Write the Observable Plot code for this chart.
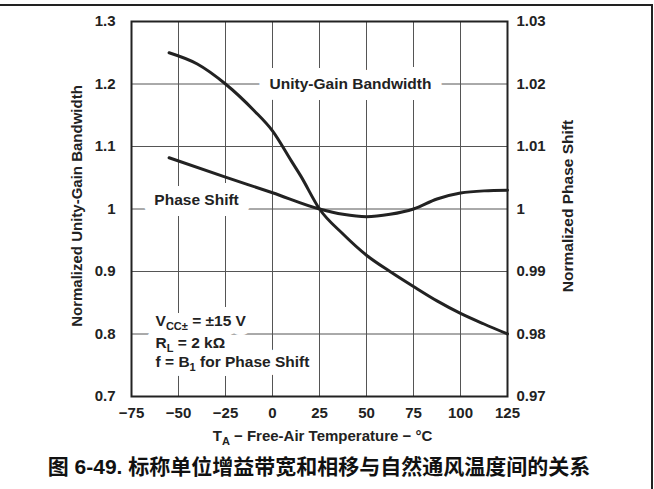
<!DOCTYPE html>
<html><head><meta charset="utf-8">
<script src="https://cdn.jsdelivr.net/npm/d3@7"></script>
<script src="https://cdn.jsdelivr.net/npm/@observablehq/plot@0.6"></script>
<style>
html,body{margin:0;padding:0;background:#fff;}
body{width:654px;height:489px;position:relative;overflow:hidden;font-family:"Liberation Sans",Arial,sans-serif;}
#chart{position:absolute;left:0;top:0;}
#chart svg{background:transparent !important;}
.bline{position:absolute;background:#222;z-index:10;}
#btop{left:0;top:4px;width:653px;height:1.5px;}
#bright{left:651px;top:4px;width:1.5px;height:490px;}
#caption{position:absolute;left:-8px;width:654px;top:455px;text-align:center;font:bold 21px/24px "Liberation Sans","Noto Sans CJK SC",sans-serif;color:#111;white-space:nowrap;}
</style></head><body>
<div id="chart"></div>
<div id="caption">图 6-49. 标称单位增益带宽和相移与自然通风温度间的关系</div>
<div class="bline" id="btop"></div>
<div class="bline" id="bright"></div>
<script>
// X axis: free-air temperature (°C)
const temps = [-75, -50, -25, 0, 25, 50, 75, 100, 125];
const tempLabels = ["−75", "−50", "−25", "0", "25", "50", "75", "100", "125"];
// Left axis: normalized unity-gain bandwidth
const gainTicks = [0.7, 0.8, 0.9, 1.0, 1.1, 1.2, 1.3];
const gainTickLabels = ["0.7", "0.8", "0.9", "1", "1.1", "1.2", "1.3"];
// Right axis: normalized phase shift
const phaseTicks = [0.97, 0.98, 0.99, 1.0, 1.01, 1.02, 1.03];
const phaseTickLabels = ["0.97", "0.98", "0.99", "1", "1.01", "1.02", "1.03"];

// Unity-gain bandwidth curve (left axis)
const ugbTemp  = [-55, -40, -25, -10, 0, 10, 15, 25, 37.5, 50, 62.5, 75, 87.5, 100, 112.5, 125];
const ugbValue = [1.25, 1.232, 1.2, 1.158, 1.125, 1.077, 1.053, 1.0, 0.96, 0.926, 0.9, 0.876, 0.853, 0.833, 0.816, 0.8];
// Phase shift curve (right axis)
const phaseTemp  = [-55, -25, 0, 25, 37.5, 50, 62.5, 75, 87.5, 100, 112.5, 125];
const phaseValue = [1.0082, 1.0051, 1.0026, 1.0, 0.99915, 0.99877, 0.99915, 1.0, 1.0016, 1.00255, 1.0029, 1.003];

// Texts
const seriesNames = ["Unity-Gain Bandwidth", "Phase Shift"];
const seriesLabelTemp = [41.5, -40.4];
const seriesLabelGain = [1.2, 1.0148];
const conditionLines = ["V_{CC±} = ±15 V", "R_{L} = 2 kΩ", "f = B_{1} for Phase Shift"];
const conditionTemp = -62.2;
const conditionGain = [0.8214, 0.7863, 0.7544];
const leftTitle = "Normalized Unity-Gain Bandwidth";
const rightTitle = "Normalized Phase Shift";
const xTitle = "T_{A} − Free-Air Temperature − °C";

// phase (right axis units) -> left axis units
const toGain = p => 1 + (p - 1) * 10;

const ugb = ugbTemp.map((t, i) => ({t, v: ugbValue[i]}));
const phase = phaseTemp.map((t, i) => ({t, v: toGain(phaseValue[i])}));
const seriesLabelData = seriesNames.map((s, i) => ({s, t: seriesLabelTemp[i], g: seriesLabelGain[i]}));
const condData = conditionLines.map((s, i) => ({s, t: conditionTemp, g: conditionGain[i]}));

const ink = "#222";
const svg = Plot.plot({
  width: 654,
  height: 450,
  marginLeft: 131,
  marginRight: 147,
  marginTop: 21,
  marginBottom: 54,
  x: {domain: [-75, 125]},
  y: {domain: [0.7, 1.3]},
  style: {fontFamily: '"Liberation Sans", Arial, sans-serif', fontWeight: "bold", fontSize: "15px", color: ink, background: "transparent", overflow: "visible"},
  marks: [
    Plot.gridX(temps, {stroke: "#555", strokeOpacity: 1, strokeWidth: 1}),
    Plot.gridY(gainTicks, {stroke: "#555", strokeOpacity: 1, strokeWidth: 1}),
    // white halos behind the in-plot labels (they break the grid lines)
    Plot.text(seriesLabelData, {x: "t", y: "g", text: "s", textAnchor: "middle", fontSize: 15.5, fill: "white", stroke: "white", strokeWidth: 22, strokeLinejoin: "round"}),
    Plot.text(condData, {x: "t", y: "g", text: "s", textAnchor: "start", fontSize: 15.5, fill: "white", stroke: "white", strokeWidth: 18, strokeLinejoin: "round"}),
    Plot.text(seriesLabelData, {x: "t", y: "g", text: "s", textAnchor: "middle", fontSize: 15.5, fill: ink}),
    Plot.text(condData, {x: "t", y: "g", text: "s", textAnchor: "start", fontSize: 15.5, fill: ink}),
    Plot.line(ugb, {x: "t", y: "v", curve: "monotone-x", stroke: ink, strokeWidth: 3}),
    Plot.line(phase, {x: "t", y: "v", curve: "monotone-x", stroke: ink, strokeWidth: 3}),
    Plot.frame({stroke: ink, strokeWidth: 2}),
    Plot.axisX(temps, {tickSize: 0, tickPadding: 11, tickFormat: d => tempLabels[temps.indexOf(d)], label: null, fontSize: 15}),
    Plot.axisY(gainTicks, {anchor: "left", tickSize: 0, tickPadding: 16, tickFormat: d => gainTickLabels[d3.minIndex(gainTicks, g => Math.abs(g - d))], label: null, fontSize: 15}),
    Plot.axisY(phaseTicks.map(toGain), {anchor: "right", tickSize: 0, tickPadding: 9, tickFormat: d => phaseTickLabels[d3.minIndex(phaseTicks, p => Math.abs(toGain(p) - d))], label: null, fontSize: 15}),
    Plot.text([leftTitle], {text: d => d, frameAnchor: "left", textAnchor: "middle", rotate: -90, dx: -54, dy: -3, fontSize: 15}),
    Plot.text([rightTitle], {text: d => d, frameAnchor: "right", textAnchor: "middle", rotate: -90, dx: 61, dy: -3, fontSize: 15.5}),
    Plot.text([xTitle], {text: d => d, frameAnchor: "bottom", textAnchor: "middle", dy: 44, dx: 3, fontSize: 15})
  ]
});

// Render "_{...}" as subscripts
const NS = "http://www.w3.org/2000/svg";
svg.querySelectorAll("text").forEach(el => {
  const s = el.textContent;
  if (!s.includes("_{")) return;
  el.textContent = "";
  const re = /_\{([^}]*)\}/g;
  let last = 0, m, shifted = false;
  const add = (str, sub) => {
    if (!str) return;
    const ts = document.createElementNS(NS, "tspan");
    ts.textContent = str;
    if (sub) { ts.setAttribute("font-size", "11"); ts.setAttribute("dy", "4"); shifted = true; }
    else if (shifted) { ts.setAttribute("dy", "-4"); shifted = false; }
    el.appendChild(ts);
  };
  while ((m = re.exec(s))) {
    add(s.slice(last, m.index), false);
    add(m[1], true);
    last = re.lastIndex;
  }
  add(s.slice(last), false);
});

document.getElementById("chart").appendChild(svg);
</script>
</body></html>
